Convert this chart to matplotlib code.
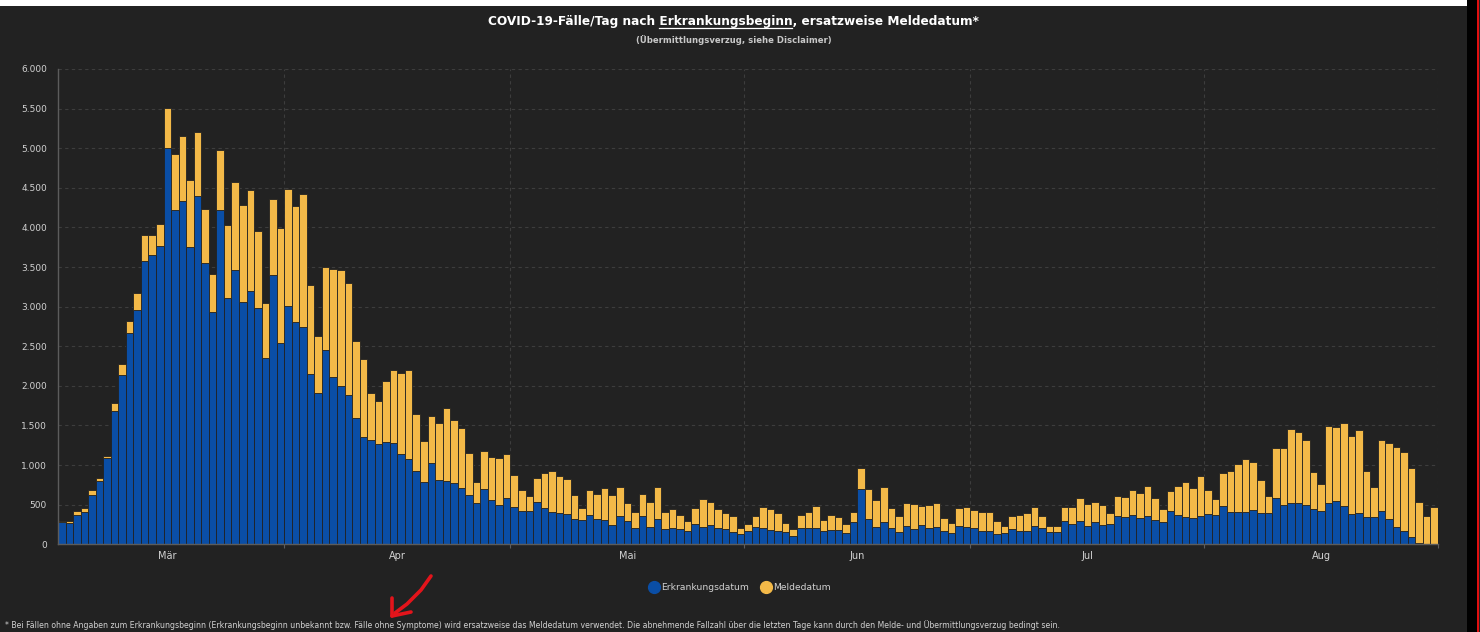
import numpy as np
import pandas as pd
import matplotlib
matplotlib.use("Agg")
import matplotlib.pyplot as plt
import matplotlib.dates as mdates
from matplotlib.lines import Line2D
from matplotlib.patches import Rectangle
from matplotlib.ticker import FixedLocator, FuncFormatter, NullFormatter

# ---------------- data ----------------
start_date = "2020-03-02"

# cases by onset of illness (blue)
erkrankungsdatum = [
    280, 270, 370, 412, 627, 800, 1090, 1687, 2138, 2668,
    2954, 3581, 3648, 3766, 4999, 4225, 4330, 3758, 4402, 3547,
    2933, 4216, 3114, 3463, 3063, 3198, 2983, 2356, 3400, 2542,
    3004, 2807, 2739, 2150, 1906, 2453, 2117, 1995, 1881, 1595,
    1351, 1317, 1271, 1288, 1279, 1136, 1077, 926, 791, 1031,
    808, 800, 770, 711, 617, 518, 699, 560, 497, 589,
    476, 417, 421, 535, 463, 408, 400, 383, 320, 303,
    370, 324, 303, 240, 362, 299, 202, 354, 215, 320,
    189, 210, 194, 168, 261, 223, 248, 202, 194, 160,
    126, 173, 219, 210, 181, 168, 152, 101, 210, 206,
    210, 168, 181, 177, 147, 278, 695, 324, 219, 282,
    202, 160, 232, 194, 240, 202, 219, 168, 139, 227,
    219, 202, 173, 173, 131, 143, 189, 168, 168, 227,
    202, 156, 156, 299, 253, 290, 232, 286, 240, 261,
    358, 349, 370, 337, 362, 303, 282, 421, 370, 349,
    328, 354, 383, 375, 484, 413, 413, 404, 438, 392,
    396, 585, 493, 526, 522, 493, 450, 425, 526, 547,
    484, 383, 400, 341, 349, 421, 320, 223, 168, 88,
    17, 4, 0,
]

# total height of each day's bar (blue + yellow)
gesamt = [
    300, 300, 425, 455, 690, 837, 1119, 1784, 2272, 2819,
    3177, 3901, 3901, 4044, 5504, 4932, 5150, 4595, 5205, 4237,
    3413, 4978, 4036, 4570, 4288, 4469, 3960, 3051, 4359, 3989,
    4481, 4271, 4418, 3274, 2634, 3501, 3480, 3463, 3295, 2567,
    2340, 1915, 1809, 2066, 2205, 2159, 2205, 1645, 1304, 1624,
    1536, 1725, 1574, 1473, 1149, 791, 1179, 1099, 1086, 1137,
    871, 690, 606, 834, 897, 926, 859, 821, 619, 455,
    690, 636, 707, 619, 720, 526, 404, 636, 535, 720,
    413, 446, 366, 290, 455, 573, 539, 446, 396, 354,
    210, 253, 354, 476, 446, 392, 269, 189, 375, 404,
    484, 303, 370, 341, 261, 404, 964, 699, 560, 720,
    455, 354, 518, 505, 480, 497, 518, 333, 269, 455,
    467, 434, 404, 413, 290, 227, 354, 370, 392, 467,
    354, 232, 227, 476, 476, 585, 505, 535, 497, 392,
    606, 598, 682, 648, 741, 589, 446, 669, 733, 783,
    711, 863, 690, 573, 897, 930, 1019, 1074, 1036, 813,
    606, 1217, 1217, 1452, 1415, 1314, 914, 762, 1495, 1478,
    1537, 1364, 1444, 926, 720, 1322, 1280, 1229, 1166, 964,
    535, 354, 471,
]

month_labels = ["Mär", "Apr", "Mai", "Jun", "Jul", "Aug"]
series_names = ["Erkrankungsdatum", "Meldedatum"]
y_ticks = [0, 500, 1000, 1500, 2000, 2500, 3000, 3500, 4000, 4500, 5000, 5500, 6000]

title_text = "COVID-19-Fälle/Tag nach Erkrankungsbeginn, ersatzweise Meldedatum*"
title_underlined = "Erkrankungsbeginn"
subtitle_text = "(Übermittlungsverzug, siehe Disclaimer)"
footnote_text = ("* Bei Fällen ohne Angaben zum Erkrankungsbeginn (Erkrankungsbeginn unbekannt bzw. "
                 "Fälle ohne Symptome) wird ersatzweise das Meldedatum verwendet. Die abnehmende "
                 "Fallzahl über die letzten Tage kann durch den Melde- und Übermittlungsverzug bedingt sein.")

# ---------------- style ----------------
W, H = 1480, 632
BG = "#222222"
BLUE = "#0a4ea6"
YELLOW = "#f3b948"
GRID = "#3d3d3d"
AXIS = "#5c5c5c"
TXT = "#d2d2d2"
FONT = "DejaVu Sans"

blue = np.array(erkrankungsdatum, dtype=float)
total = np.array(gesamt, dtype=float)
yellow = total - blue
dates = pd.date_range(start_date, periods=len(blue), freq="D")
x = mdates.date2num(dates)

fig = plt.figure(figsize=(W / 100, H / 100), dpi=100, facecolor=BG)

# screenshot frame artefacts
fig.patches.append(Rectangle((0, 1 - 6 / H), 1467 / W, 6 / H, transform=fig.transFigure,
                             facecolor="white", edgecolor="none", zorder=-5))
fig.patches.append(Rectangle((1467 / W, 0), 10 / W, 1, transform=fig.transFigure,
                             facecolor="black", edgecolor="none", zorder=-5))
fig.patches.append(Rectangle((1477 / W, 0), 2 / W, 1, transform=fig.transFigure,
                             facecolor="#e01010", edgecolor="none", zorder=-5))

ax = fig.add_axes([58 / W, (H - 544.3) / H, (1438 - 58) / W, (544.3 - 69) / H])
ax.set_facecolor(BG)

ax.bar(x, blue, width=1.0, align="edge", color=BLUE, edgecolor=BG, linewidth=0.6,
       label=series_names[0], zorder=3)
ax.bar(x, yellow, width=1.0, bottom=blue, align="edge", color=YELLOW, edgecolor=BG,
       linewidth=0.6, label=series_names[1], zorder=3)

x0 = mdates.date2num(pd.Timestamp(start_date))
x1 = mdates.date2num(pd.Timestamp("2020-09-01"))
ax.set_xlim(x0, x1)
ax.set_ylim(0, 6000)

# y axis
ax.yaxis.set_major_locator(FixedLocator(y_ticks))
ax.yaxis.set_major_formatter(FuncFormatter(lambda v, p: f"{v:,.0f}".replace(",", ".")))
ax.tick_params(axis="y", length=0, labelsize=6.5, labelcolor=TXT, pad=8)
for yt in y_ticks[1:]:
    ax.axhline(yt, color=GRID, lw=0.8, ls=(0, (3, 3)), zorder=1)

# x axis: month boundaries (ticks + grid) and labels at month middle
month_starts = pd.date_range("2020-04-01", "2020-09-01", freq="MS")
month_mids = [pd.Timestamp(2020, m, 1) + (pd.Timestamp(2020, m + 1, 1) - pd.Timestamp(2020, m, 1)) / 2
              for m in range(3, 9)]
ax.xaxis.set_major_locator(FixedLocator(mdates.date2num(month_starts)))
ax.xaxis.set_major_formatter(NullFormatter())
ax.xaxis.set_minor_locator(FixedLocator(mdates.date2num(month_mids)))
ax.xaxis.set_minor_formatter(FuncFormatter(lambda v, p: month_labels[p] if p < len(month_labels) else ""))
ax.tick_params(axis="x", which="major", length=3, color=AXIS, width=0.8)
ax.tick_params(axis="x", which="minor", length=0, labelsize=7, labelcolor=TXT, pad=5)
for ms in mdates.date2num(month_starts):
    ax.axvline(ms, color=GRID, lw=0.8, ls=(0, (3, 3)), zorder=1)

for s in ["top", "right"]:
    ax.spines[s].set_visible(False)
for s in ["left", "bottom"]:
    ax.spines[s].set_color(AXIS)
    ax.spines[s].set_linewidth(1.0)
    ax.spines[s].set_zorder(4)

# titles
TSIZE = 8.7
t = fig.text(733 / W, 1 - 22 / H, title_text, ha="center", va="center", fontsize=TSIZE,
             fontweight="bold", color="white", family=FONT)
fig.text(734 / W, 1 - 40 / H, subtitle_text, ha="center", va="center", fontsize=6.1,
         fontweight="bold", color="#c8c8c8", family=FONT)

# underline
fig.canvas.draw()
r = fig.canvas.get_renderer()
bb = t.get_window_extent(r)
prefix = title_text[:title_text.index(title_underlined) + len(title_underlined)]
tmp = fig.text(0, 0, prefix, fontsize=TSIZE, fontweight="bold", family=FONT)
w_prefix = tmp.get_window_extent(r).width
tmp.set_text(title_underlined)
w_word = tmp.get_window_extent(r).width
tmp.remove()
ux1 = bb.x0 + w_prefix
ux0 = ux1 - w_word
uy = bb.y0 + 0.5
fig.add_artist(Line2D([ux0 / W, ux1 / W], [uy / H, uy / H], transform=fig.transFigure,
                      color="white", lw=0.9))

# legend
handles = [Line2D([], [], marker="o", ls="none", markersize=8.5, markerfacecolor=BLUE,
                  markeredgecolor=BLUE),
           Line2D([], [], marker="o", ls="none", markersize=8.5, markerfacecolor=YELLOW,
                  markeredgecolor=YELLOW)]
fig.legend(handles, series_names, loc="center", bbox_to_anchor=(740 / W, 1 - 588 / H), ncol=2,
           frameon=False, handletextpad=0.3, columnspacing=1.3, handlelength=1.0,
           prop={"family": FONT, "size": 6.6}, labelcolor=TXT)

# footnote
fig.text(5 / W, 1 - 625 / H, footnote_text, ha="left", va="center", fontsize=5.6,
         color=TXT, family=FONT)

# hand-drawn red arrow
def P(px, py):
    return px / W, 1 - py / H

arrow_pts = [P(431, 576), P(421, 590), P(407, 604), P(395, 613)]
fig.add_artist(Line2D([p[0] for p in arrow_pts], [p[1] for p in arrow_pts],
                      transform=fig.transFigure, color="#e3141b", lw=2.6, solid_capstyle="round"))
for (a, b) in [(P(392, 616), P(392, 598)), (P(392, 616), P(411, 612))]:
    fig.add_artist(Line2D([a[0], b[0]], [a[1], b[1]], transform=fig.transFigure,
                          color="#e3141b", lw=2.6, solid_capstyle="round"))

fig.savefig("out.png", dpi=100, facecolor=BG)
